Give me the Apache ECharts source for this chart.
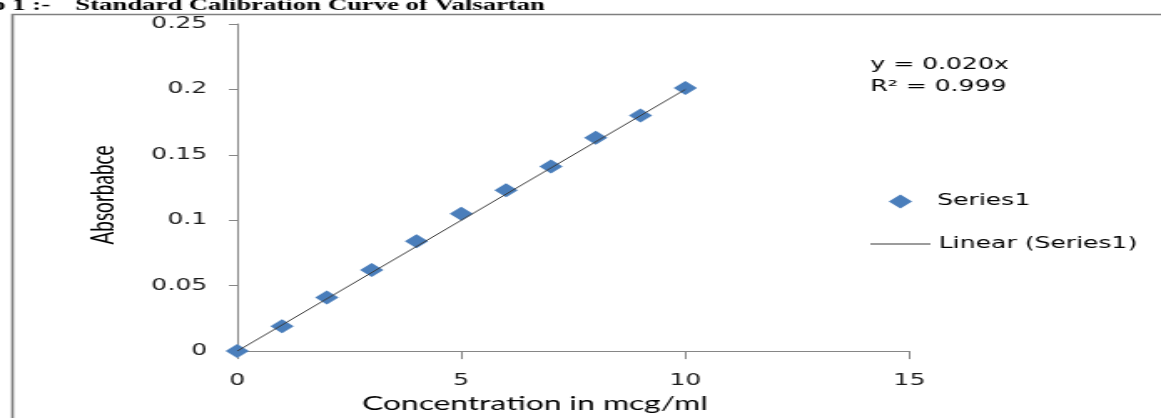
<!DOCTYPE html>
<html><head><meta charset="utf-8">
<script src="https://cdn.jsdelivr.net/npm/echarts@6/dist/echarts.min.js"></script>
<style>
html,body{margin:0;padding:0;overflow:hidden;background:#fff;width:1161px;height:418px;}
#c{width:695px;height:418px;transform:scaleX(1.6705);transform-origin:0 0;}
</style></head><body><div id="c"></div>
<script>
// Data
const concentrations = [0, 1, 2, 3, 4, 5, 6, 7, 8, 9, 10];
const absorbance = [0, 0.019, 0.041, 0.062, 0.084, 0.105, 0.123, 0.141, 0.163, 0.180, 0.201];
const trendX = [0, 10];
const trendY = [0, 0.2];
const titlePrefix = 'No 1 :-';
const titleMain = 'Standard Calibration Curve of Valsartan';
const equationLines = ['y = 0.020x', 'R\u00b2 = 0.999'];
const seriesName = 'Series1';
const trendName = 'Linear (Series1)';
const xAxisTitle = 'Concentration in mcg/ml';
const yAxisTitle = 'Absorbabce';

const tickFont = {fontFamily: 'DejaVu Sans', fontSize: 15, color: '#1a1a1a'};
const titleFont = {fontFamily: 'Lato', fontSize: 19, color: '#000'};
const legendText = {fontFamily: 'DejaVu Sans', fontSize: 15, color: '#000'};

const chart = echarts.init(document.getElementById('c'), null, {renderer: 'canvas'});
chart.setOption({
  animation: false,
  backgroundColor: '#fff',
  grid: {left: 142, right: 150.6, top: 24, bottom: 65, containLabel: false},
  xAxis: {
    type: 'value', min: 0, max: 15, interval: 5,
    name: xAxisTitle, nameLocation: 'middle', nameGap: 42,
    nameTextStyle: Object.assign({}, titleFont, {padding: [0, 46, 0, 0]}),
    axisLine: {show: true, lineStyle: {color: '#868686', width: 1}},
    axisTick: {show: true, inside: false, length: 8, lineStyle: {color: '#868686'}},
    axisLabel: Object.assign({}, tickFont, {margin: 23}),
    splitLine: {show: false}
  },
  yAxis: {
    type: 'value', min: 0, max: 0.25, interval: 0.05,
    name: yAxisTitle, nameLocation: 'middle', nameGap: 71,
    nameTextStyle: Object.assign({}, titleFont, {padding: [0, 15, 0, 0]}),
    axisLine: {show: true, lineStyle: {color: '#868686', width: 1}},
    axisTick: {show: true, inside: false, length: 5, lineStyle: {color: '#868686'}},
    axisLabel: Object.assign({}, tickFont, {margin: 18}),
    splitLine: {show: false}
  },
  legend: [
    {
      data: [{name: seriesName, icon: 'diamond'}], orient: 'vertical', left: 532, top: 194, padding: 0,
      itemWidth: 14, itemHeight: 14, itemGap: 5,
      textStyle: Object.assign({}, legendText, {padding: [0, 0, 0, 10]})
    },
    {
      data: [{name: trendName, icon: 'rect'}], orient: 'vertical', left: 521, top: 236.5, padding: 0,
      itemWidth: 36, itemHeight: 1.2, itemGap: 5,
      textStyle: Object.assign({}, legendText, {padding: [0, 0, 0, 0]})
    }
  ],
  series: [
    {
      name: seriesName, type: 'scatter', symbol: 'diamond', symbolSize: 14,
      itemStyle: {color: '#4A7EBB', opacity: 1},
      data: concentrations.map((x, i) => [x, absorbance[i]]),
      z: 2
    },
    {
      name: trendName, type: 'line', symbol: 'none', showSymbol: false,
      lineStyle: {color: '#3a3a3a', width: 1},
      itemStyle: {color: '#3a3a3a'},
      data: trendX.map((x, i) => [x, trendY[i]]),
      z: 3
    }
  ],
  graphic: [
    {type: 'rect', left: 5, top: 12, shape: {x: 0, y: 0, width: 1000, height: 1000},
     style: {fill: 'none', stroke: '#7f7f7f', lineWidth: 1.6}, silent: true},
    {type: 'text', x: 30, y: 14,
     style: {text: titlePrefix, fontFamily: 'Liberation Serif', fontWeight: 'bold', fontSize: 16,
             fill: '#000', textAlign: 'right', textVerticalAlign: 'bottom'}},
    {type: 'text', x: 45, y: 14,
     style: {text: titleMain, fontFamily: 'Liberation Serif', fontWeight: 'bold', fontSize: 16,
             fill: '#000', textAlign: 'left', textVerticalAlign: 'bottom'}},
    {type: 'text', x: 521, y: 65,
     style: {text: equationLines[0], fontFamily: 'DejaVu Sans', fontSize: 15, fill: '#000',
             textAlign: 'left', textVerticalAlign: 'middle'}},
    {type: 'text', x: 521, y: 87,
     style: {text: equationLines[1], fontFamily: 'DejaVu Sans', fontSize: 15, fill: '#000',
             textAlign: 'left', textVerticalAlign: 'middle'}}
  ]
});
</script></body></html>
